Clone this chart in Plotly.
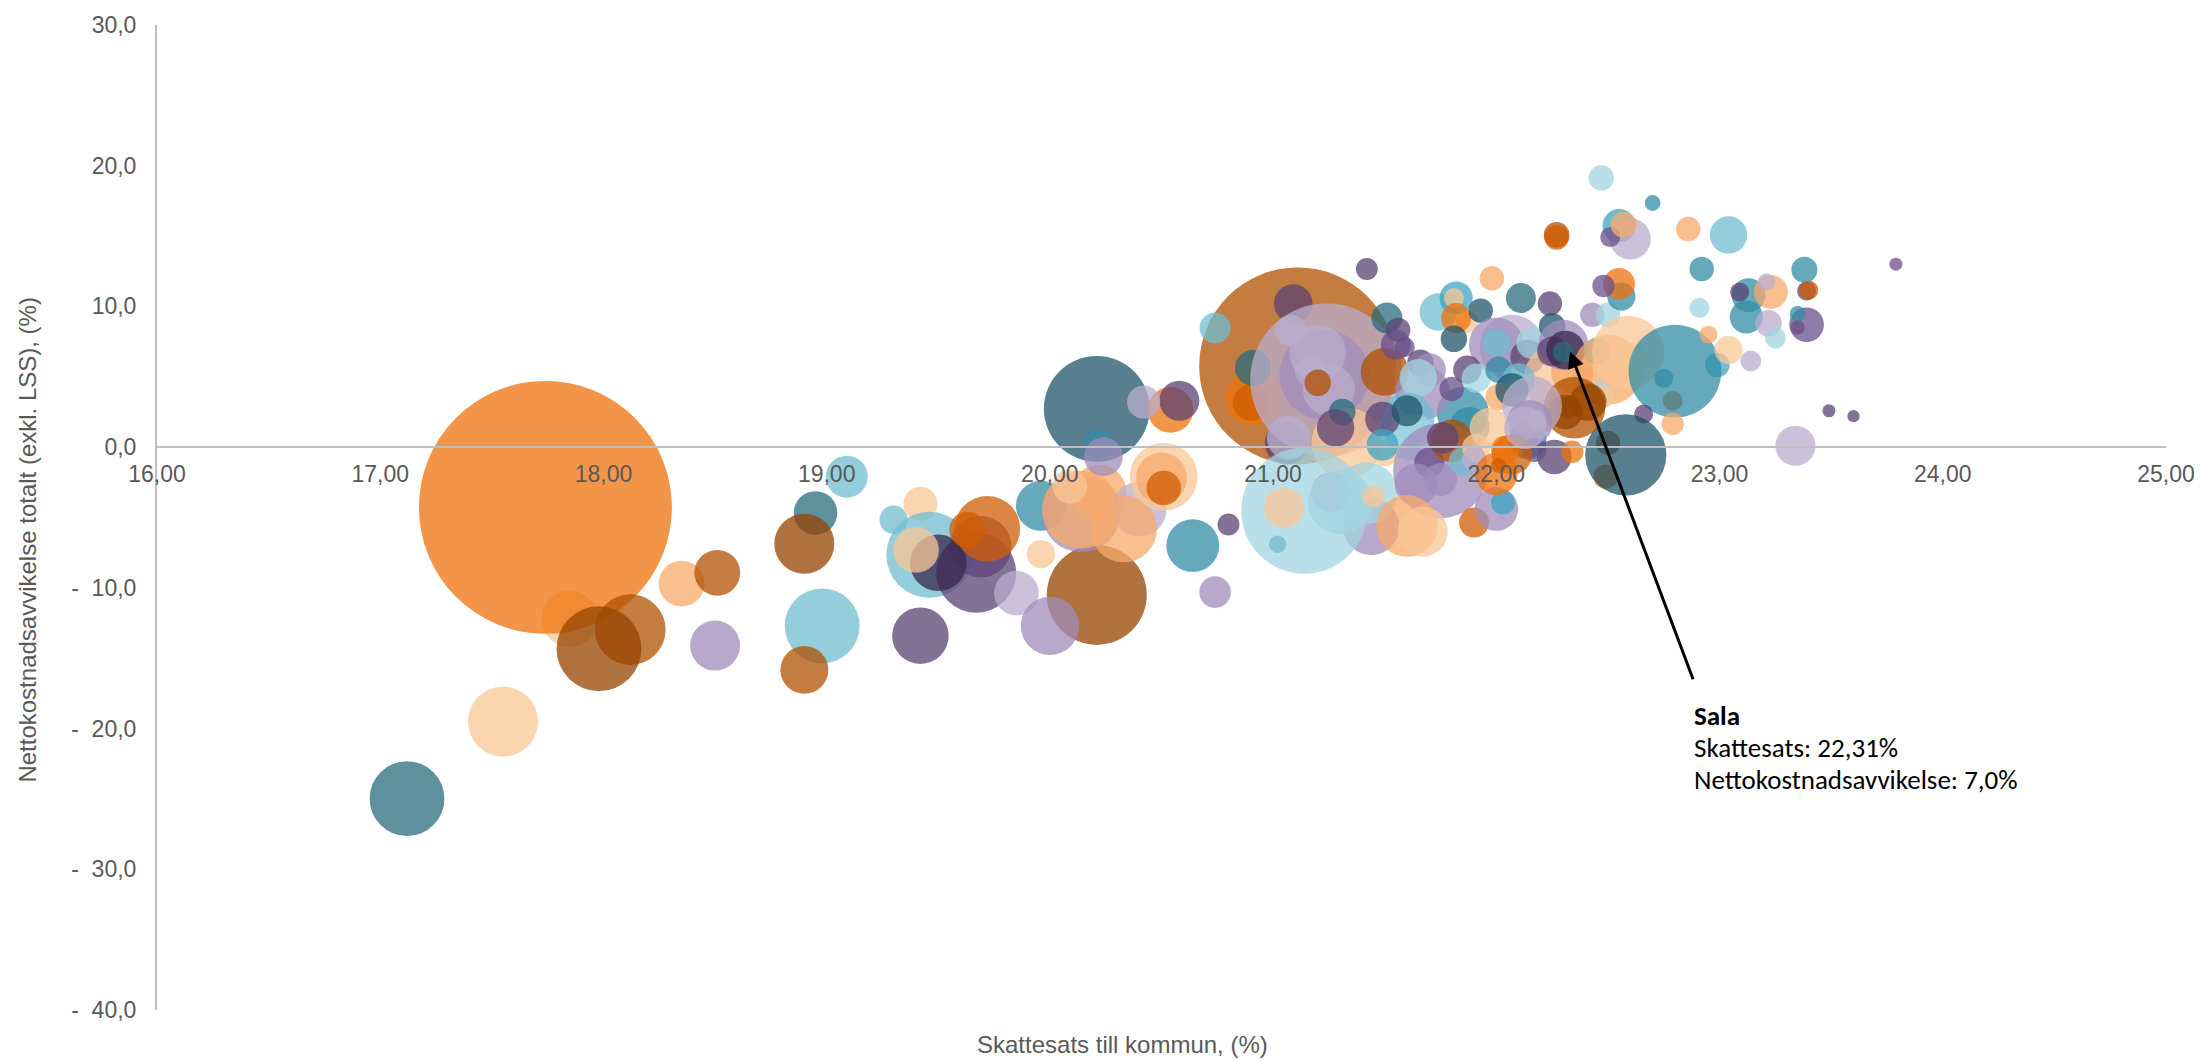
import plotly.graph_objects as go

X_TICKS = [16, 17, 18, 19, 20, 21, 22, 23, 24, 25]
X_LABELS = ["16,00", "17,00", "18,00", "19,00", "20,00", "21,00", "22,00", "23,00", "24,00", "25,00"]
Y_TICKS = [30, 20, 10, 0, -10, -20, -30, -40]
Y_LABELS = ["30,0", "20,0", "10,0", "0,0", "-\u00a0\u00a010,0", "-\u00a0\u00a020,0", "-\u00a0\u00a030,0", "-\u00a0\u00a040,0"]

# Tax rate (%), cost deviation (%), population-like bubble size, colour group; listed in drawing order
TAX = [
 17.85,17.74,18.12,17.98,18.35,18.51,18.50,18.98,18.90,17.55,17.12,19.09,18.95,18.90,19.30,19.42,19.46,19.69,19.67,19.50,
 19.40,19.72,19.63,19.85,19.42,20.21,20.00,19.96,19.96,20.14,20.14,20.22,20.09,20.21,20.22,20.24,20.54,20.58,20.42,20.40,
 20.33,20.51,20.50,20.51,20.64,20.80,20.74,
 21.11,21.09,20.74,20.91,20.90,20.91,21.06,21.24,21.08,21.23,21.20,21.25,21.17,21.20,21.07,21.33,21.31,21.28,21.50,21.51,
 21.56,21.55,21.59,21.42,21.85,21.88,21.67,21.66,21.70,21.65,21.80,21.60,21.62,21.49,21.60,21.50,21.49,
 21.44,21.14,21.05,21.02,21.26,21.30,21.42,21.45,21.75,21.70,21.64,21.75,21.60,21.67,21.90,22.00,22.03,
 21.74,21.82,21.81,21.87,21.82,21.81,21.93,21.98,22.11,22.24,22.07,22.00,22.00,21.87,21.91,22.01,22.14,22.16,22.25,22.43,
 22.50,22.56,22.55,22.48,22.28,22.34,22.30,22.25,22.31,22.30,22.45,22.50,22.59,22.61,22.79,22.99,22.80,22.75,22.79,22.66,
 22.50,22.49,22.58,22.26,22.34,22.46,22.48,22.35,22.31,22.32,22.41,22.10,22.01,22.07,22.14,22.16,22.15,22.18,22.17,
 21.80,21.76,21.97,21.85,21.91,21.90,22.07,22.04,22.00,22.01,22.13,
 22.47,22.70,22.27,22.27,22.55,22.60,22.51,22.57,22.86,23.04,22.92,22.91,23.38,23.13,23.23,23.21,23.09,23.12,23.22,23.25,
 23.39,23.35,23.35,23.39,23.40,23.04,22.95,23.14,23.34,23.49,23.60,23.79,
]
DEVIATION = [
 -12.20,-4.28,-12.97,-14.33,-9.70,-8.93,-14.10,-12.70,-15.83,-19.50,-24.98,-2.10,-4.68,-6.87,-5.16,-4.03,-7.65,-7.08,-8.93,-8.22,
 -7.30,-5.80,-5.87,-10.37,-13.40,-10.50,-12.70,-4.17,-7.60,-4.70,-4.45,-3.20,-2.80,2.72,0.16,-0.68,2.65,3.30,3.20,-4.40,
 -5.80,-2.10,-2.20,-2.90,-7.00,-5.50,-10.30,
 5.77,10.20,8.47,3.50,3.15,5.63,0.30,4.78,8.26,5.13,6.70,4.07,5.35,4.57,0.66,0.30,2.50,1.37,5.35,9.18,
 8.33,7.27,7.10,12.66,2.44,1.44,3.86,6.00,5.50,4.93,4.14,1.94,0.73,2.00,2.58,-0.40,0.16,
 -5.66,-4.52,-4.30,-6.90,-3.20,-3.90,-3.27,-3.50,-1.68,-1.10,-2.67,-2.30,-5.60,-6.00,-5.36,-4.40,-3.93,
 9.60,10.60,10.60,8.90,9.17,7.70,9.70,12.00,10.60,10.20,7.10,7.27,7.40,5.50,4.90,5.50,6.40,7.40,8.60,9.40,
 9.40,10.70,11.60,11.45,4.90,5.35,7.27,6.80,6.90,6.77,6.84,5.50,6.77,6.30,3.30,5.84,5.40,4.90,1.65,2.36,
 0.30,-2.10,-0.55,-0.70,-0.33,3.85,3.60,2.80,2.50,2.80,3.20,4.78,3.57,4.07,0.50,2.90,1.73,1.94,-0.20,
 0.45,0.66,1.37,-1.03,-0.05,-0.83,-0.53,-0.20,-1.90,-1.30,1.37,
 19.13,17.35,15.08,14.90,15.74,14.80,14.93,15.80,15.50,15.08,12.66,9.90,12.60,10.80,11.03,11.75,11.03,9.25,8.80,7.76,
 8.70,9.47,8.50,11.10,11.16,6.90,8.00,6.13,0.10,2.58,2.20,13.00,
]
SIZE = [
 32,640,50,72,21,21,25,56,23,49,56,17.6,19,36,8,11.6,74,38,64,32,
 21,43,13,20,32,100,34,25,8,61,61,30,12,112,10,15,21,16,11,30,
 45,46,26,12,28,4.8,10,
 388,15,9.6,30,13,13,19,234,10,81,32,27,10,7,19,50,7,14,23,9.6,
 6,9,4,4.8,27,16,30,7,11,14,6,30,23,12,9.6,7,10,
 32,159,16,3,16,41,38,5,90,9,18,11,38,25,9,19,5.8,
 14,11,4,5,9,7,6,6,9,6,42,30,8,8,8.5,7,12,10,7,6,
 6,8,10,5,49,18,25,9,15,4.5,7,49,52,10,4,6,86,3.6,5,3.6,
 6,6,66,12,5,6,5,38,12,5,14,11,7,11,14,36,21,3.6,6,
 18,10,16,8,8,6,16,8,18,2.2,18,
 6.4,2.5,6.6,6,11,17,4,6.8,6,14,6,4,6.8,11.5,11.5,3,3.6,11,7,4.4,
 12,2.5,2,3.6,3.6,8,3.2,4.4,16,1.7,1.5,1.7,
]
GROUP = list(
 "COBDABQLBCSLSDLCLMPN"
 "CUUWPDQECQAACTEQOPWW"
 "ACAUEPQ"
 "BPLOUSPWWQWWWBWCSPBS"
 "PMMPEEQPQVMLVPTCF"
 "QVCLWVVCQMQQACUQF"
 "LFCCOTTASPWQLPVEPVTQ"
 "VEOMCAQPNSFACCUFEEAP"
 "DUTPOVCBDDDLATSWQWM"
 "BPCLCWUOOUW"
 "VEBUFWMAALEVEEAWPEWV"
 "MEMPUCAWWPPM"
)
COLOURS = {
 "O": "rgb(239,114,11)", "B": "rgb(176,80,0)", "D": "rgb(150,68,0)", "U": "rgb(210,92,3)",
 "T": "rgb(32,84,106)", "S": "rgb(40,107,126)", "E": "rgb(51,140,166)", "F": "rgb(60,165,195)",
 "L": "rgb(112,188,208)", "V": "rgb(162,212,226)", "P": "rgb(91,67,115)", "M": "rgb(106,79,139)",
 "Q": "rgb(160,140,187)", "W": "rgb(186,174,206)", "A": "rgb(247,170,106)", "C": "rgb(250,198,150)",
 "N": "rgb(57,38,76)",
}
GREY = "#595959"
AXIS = "#BFBFBF"
TICK_FONT = dict(family="Liberation Sans, Arial, sans-serif", size=23, color=GREY)
NOTE_FONT = "Carlito, Open Sans, Noto Sans, sans-serif"

fig = go.Figure(go.Scatter(
    x=TAX, y=DEVIATION, mode="markers", cliponaxis=False, hoverinfo="skip",
    marker=dict(size=SIZE, sizemode="area", sizeref=0.02, opacity=0.75,
                color=[COLOURS[g] for g in GROUP], line=dict(width=0)),
))

fig.update_layout(
    width=2200, height=1059, showlegend=False,
    paper_bgcolor="white", plot_bgcolor="white",
    margin=dict(l=156.7, r=34, t=25, b=48.5, autoexpand=False),
    xaxis=dict(range=[16, 25], tickmode="array", tickvals=X_TICKS, ticktext=X_LABELS,
               showgrid=False, zeroline=False, showline=True, linecolor=AXIS, linewidth=2,
               anchor="free", position=0.5715, ticks="", tickfont=TICK_FONT, ticklabelstandoff=6),
    yaxis=dict(range=[-40, 30], tickmode="array", tickvals=Y_TICKS, ticktext=Y_LABELS,
               showgrid=False, zeroline=False, showline=True, linecolor=AXIS, linewidth=2,
               ticks="", tickfont=TICK_FONT, ticklabelstandoff=14),
    annotations=[
        dict(xref="x", yref="y", axref="x", ayref="y", x=22.33, y=6.8, ax=22.884, ay=-16.6,
             text="", showarrow=True, arrowhead=2, arrowsize=1.1, arrowwidth=3, arrowcolor="black"),
        dict(xref="paper", yref="paper", x=-0.0645, y=0.478, text="Nettokostnadsavvikelse totalt (exkl. LSS), (%)",
             textangle=-90, showarrow=False, xanchor="center", yanchor="middle",
             font=dict(family=TICK_FONT["family"], size=24, color=GREY)),
        dict(xref="paper", yref="paper", x=0.4804, y=-0.0355, text="Skattesats till kommun, (%)",
             showarrow=False, xanchor="center", yanchor="middle",
             font=dict(family=TICK_FONT["family"], size=24, color=GREY)),
        dict(xref="x", yref="y", x=22.884, y=-19.1, text="<b>Sala</b>", showarrow=False, xanchor="left",
             yanchor="middle", xshift=-2, font=dict(family=NOTE_FONT, size=27, color="#000000")),
        dict(xref="x", yref="y", x=22.884, y=-21.37, text="Skattesats: 22,31%", showarrow=False, xanchor="left",
             yanchor="middle", xshift=-2, font=dict(family=NOTE_FONT, size=27, color="#000000")),
        dict(xref="x", yref="y", x=22.884, y=-23.64, text="Nettokostnadsavvikelse: 7,0%", showarrow=False,
             xanchor="left", yanchor="middle", xshift=-2, font=dict(family=NOTE_FONT, size=27, color="#000000")),
    ],
)

assert len(TAX) == len(DEVIATION) == len(SIZE) == len(GROUP), (len(TAX), len(DEVIATION), len(SIZE), len(GROUP))
fig.write_html("out.html", config={"displayModeBar": False}, post_script="document.body.style.margin='0';")
